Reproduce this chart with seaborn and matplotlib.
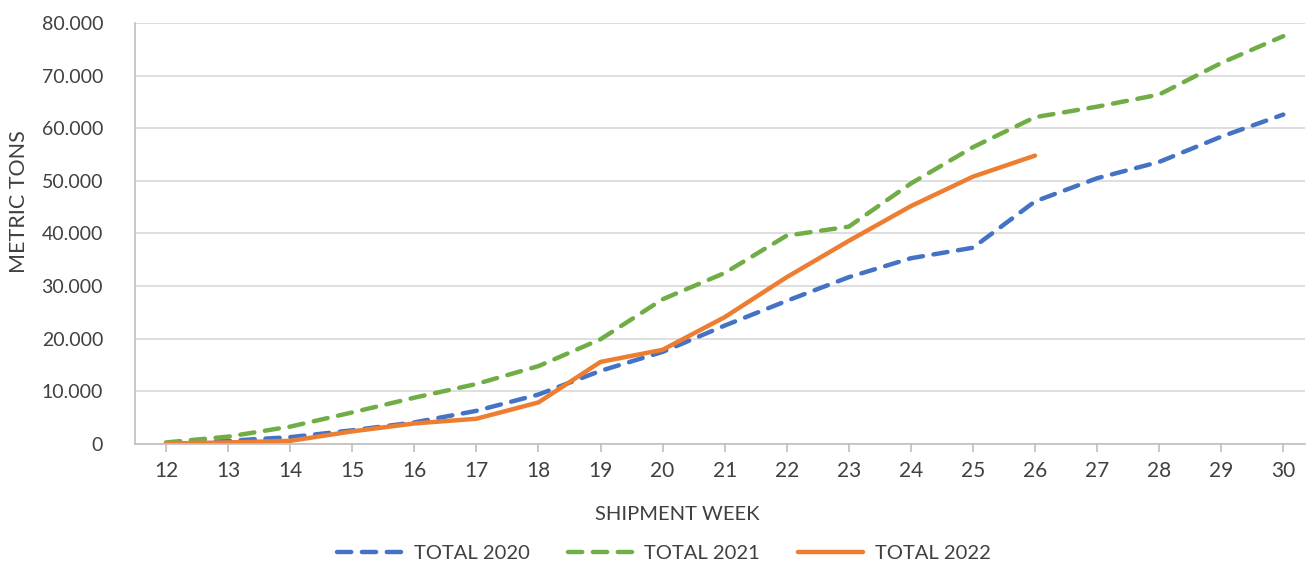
import numpy as np
import pandas as pd
import matplotlib
matplotlib.use("Agg")
import matplotlib.pyplot as plt
import matplotlib.ticker as mticker
import seaborn as sns

weeks = list(range(12, 31))
total_2020 = [0, 600, 1300, 2600, 4100, 6300, 9400, 13900, 17500, 22500, 27200,
              31700, 35300, 37300, 46100, 50500, 53600, 58400, 62600]
total_2021 = [300, 1400, 3300, 6000, 8800, 11400, 14800, 19900, 27500, 32500, 39600,
              41300, 49500, 56400, 62100, 64100, 66400, 72400, 77500]
total_2022 = [100, 300, 600, 2400, 3900, 4800, 7900, 15600, 17900, 24100, 31700,
              38600, 45200, 50800, 54800]
series_names = ["TOTAL 2020", "TOTAL 2021", "TOTAL 2022"]
colors = ["#4472C4", "#70AD47", "#ED7D31"]
y_ticks = [0, 10000, 20000, 30000, 40000, 50000, 60000, 70000, 80000]

rows = []
for name, vals in zip(series_names, [total_2020, total_2021, total_2022]):
    for w, v in zip(weeks, vals):
        rows.append({"week": w, "value": v, "series": name})
df = pd.DataFrame(rows)

sns.set_theme(style="white")
plt.rcParams["font.family"] = ["Lato", "DejaVu Sans"]

fig = plt.figure(figsize=(13.07, 5.68), dpi=100)
ax = fig.add_axes([135 / 1307, 1 - 444 / 568, (1305 - 135) / 1307, (444 - 23) / 568])

palette = dict(zip(series_names, colors))
dashes = {"TOTAL 2020": (3.2, 2.4), "TOTAL 2021": (3.2, 2.4), "TOTAL 2022": ""}
sns.lineplot(data=df, x="week", y="value", hue="series", style="series",
             palette=palette, dashes=dashes, linewidth=3.2, ax=ax, legend=True)

for line in ax.get_lines():
    line.set_dash_capstyle("round")
    line.set_solid_capstyle("round")
    line.set_solid_joinstyle("round")

ax.set_xlim(11.5, 30.35)
ax.set_ylim(0, 80000)
ax.set_xticks(weeks)
ax.set_xticklabels([str(w) for w in weeks])
ax.set_yticks(y_ticks)
ax.yaxis.set_major_formatter(mticker.FuncFormatter(
    lambda v, p: "0" if v == 0 else f"{int(v):,}".replace(",", ".")))
ax.grid(axis="y", color="#D9D9D9", linewidth=1.2)
ax.set_axisbelow(True)
for s in ["top", "right"]:
    ax.spines[s].set_visible(False)
for s in ["left", "bottom"]:
    ax.spines[s].set_color("#BFBFBF")
    ax.spines[s].set_linewidth(1.2)
ax.tick_params(axis="x", bottom=True, length=6, width=1.2, color="#BFBFBF",
               labelsize=15, labelcolor="#404040", pad=6)
ax.tick_params(axis="y", left=False, labelsize=14, labelcolor="#404040", pad=17)
ax.set_xlabel("SHIPMENT WEEK", fontsize=14.5, color="#404040", labelpad=18,
              x=(677 - 135) / 1170)
ax.set_ylabel("METRIC TONS", fontsize=15.5, color="#404040")
ax.yaxis.set_label_coords((29 - 135) / 1170, (444 - 202) / 421)

leg = ax.legend(loc="center", bbox_to_anchor=((664 - 135) / 1170, (444 - 553) / (444 - 23)),
                ncol=3, frameon=False, fontsize=14.5, handlelength=3.2,
                columnspacing=1.9, handletextpad=0.6)
for t in leg.get_texts():
    t.set_color("#404040")
for h in leg.get_lines():
    h.set_dash_capstyle("round")
    h.set_linewidth(3.2)

fig.savefig("out.png", dpi=100)
